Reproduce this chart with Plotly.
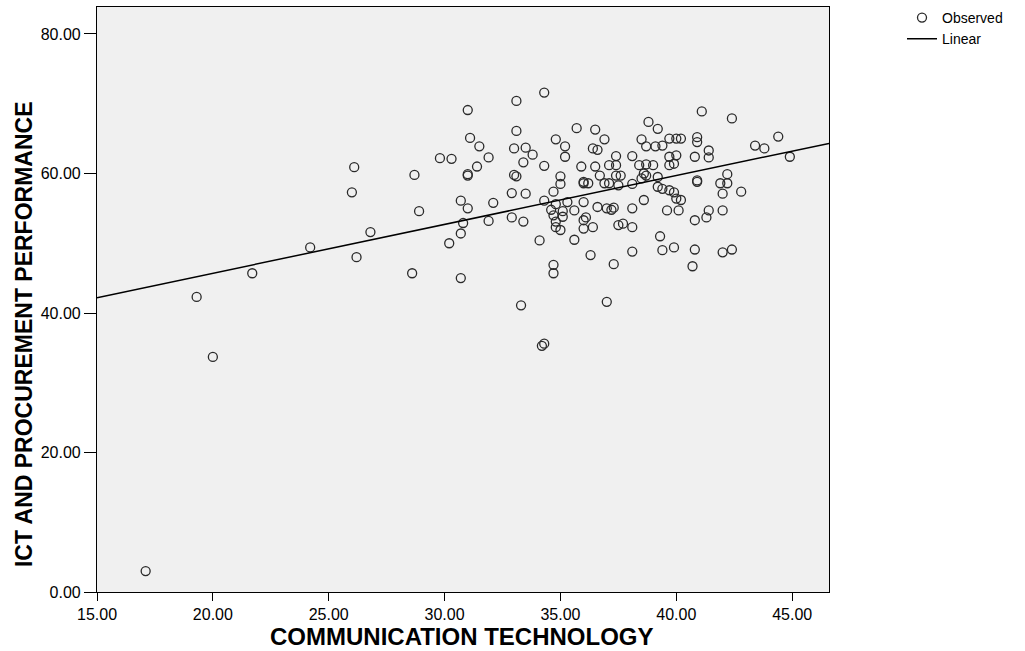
import plotly.graph_objects as go

# Observed scores: communication technology (x) vs ICT and procurement performance (y)
comm_tech = [
    17.1, 20.0, 19.3, 21.7, 24.2, 26.2, 26.8, 26.1, 26.0, 28.7, 28.9, 28.6, 30.7,
    34.3, 34.2, 33.3, 37.0,
    34.3, 33.1, 31.0, 35.7, 36.5, 33.1, 31.1, 31.5, 33.0, 33.5, 33.8, 34.8, 35.2,
    35.2, 29.8, 30.3, 31.9, 31.4, 31.0, 31.0, 33.4, 34.3, 33.0, 33.1, 35.0, 35.9,
    36.5, 36.0, 36.0, 36.2, 35.0, 34.7, 32.9, 33.5, 30.7, 31.0, 32.1, 34.3, 34.8,
    35.3, 36.0, 34.6, 35.1, 35.6, 36.6, 34.7, 35.1, 36.1, 32.9, 33.4, 31.9, 30.8,
    30.7, 30.2, 34.8, 34.8, 35.0, 36.0, 36.4, 34.1, 35.6,
    38.8, 39.2, 36.9, 36.4, 36.6, 38.5, 39.7, 40.0, 40.2, 40.9, 40.9, 38.7, 39.1,
    39.4, 37.4, 38.1, 37.1, 37.4, 38.4, 38.7, 39.0, 39.7, 40.0, 39.7, 39.9, 40.8,
    36.7, 37.4, 37.6, 38.6, 38.7, 38.5, 39.2, 36.9, 37.1, 37.5, 38.1, 39.2, 39.4,
    39.7, 39.9, 40.0, 40.2, 40.9, 40.8, 36.0, 37.0, 37.2, 37.3, 38.1, 38.6, 39.6,
    40.1, 37.5, 37.7, 38.1, 39.3, 39.4, 39.9, 40.8, 36.3, 38.1, 34.7, 34.7, 37.3,
    40.7,
    41.1, 42.4, 44.4, 43.4, 43.8, 44.9, 41.4, 41.4, 42.2, 41.9, 42.2, 40.9, 42.0,
    42.8, 41.4, 42.0, 41.3, 42.0, 42.4,
]
ict_perf = [
    3.0, 33.7, 42.3, 45.7, 49.4, 48.0, 51.6, 60.9, 57.3, 59.8, 54.6, 45.7, 45.0,
    35.6, 35.3, 41.1, 41.6,
    71.6, 70.4, 69.1, 66.5, 66.3, 66.1, 65.1, 63.9, 63.6, 63.7, 62.7, 64.9, 63.9,
    62.4, 62.2, 62.1, 62.3, 61.0, 59.7, 59.9, 61.6, 61.1, 59.8, 59.6, 59.6, 61.0,
    61.0, 58.8, 58.6, 58.6, 58.5, 57.4, 57.2, 57.1, 56.1, 55.0, 55.8, 56.1, 55.6,
    55.9, 55.9, 54.8, 54.6, 54.7, 55.2, 54.0, 53.8, 53.7, 53.7, 53.1, 53.2, 52.9,
    51.4, 50.0, 53.1, 52.3, 51.9, 52.1, 52.3, 50.4, 50.5,
    67.4, 66.4, 64.9, 63.6, 63.4, 64.9, 65.0, 65.0, 65.0, 65.2, 64.5, 63.9, 63.9,
    64.0, 62.5, 62.5, 61.2, 61.2, 61.2, 61.3, 61.2, 62.4, 62.6, 61.2, 61.4, 62.4,
    59.7, 59.7, 59.7, 60.0, 59.7, 59.3, 59.5, 58.6, 58.6, 58.3, 58.5, 58.1, 57.8,
    57.6, 57.3, 56.4, 56.2, 58.8, 53.3, 53.3, 55.0, 54.8, 55.1, 55.0, 56.2, 54.7,
    54.7, 52.6, 52.8, 52.3, 51.0, 49.0, 49.4, 49.1, 48.3, 48.8, 46.9, 45.7, 47.0,
    46.7,
    68.9, 67.9, 65.3, 64.0, 63.6, 62.4, 63.3, 62.3, 59.9, 58.6, 58.6, 59.0, 57.1,
    57.4, 54.7, 54.7, 53.7, 48.7, 49.1,
]

# Fitted linear model: performance = intercept + slope * technology
line_intercept = 31.7
line_slope = 0.70

x_range = [15.0, 46.59]
y_range = [0.0, 83.87]
x_ticks = [15, 20, 25, 30, 35, 40, 45]
y_ticks = [0, 20, 40, 60, 80]

FONT = "Liberation Sans, Arial, sans-serif"

fit_x = x_range
fit_y = [line_intercept + line_slope * v for v in fit_x]

fig = go.Figure()
fig.add_trace(go.Scatter(
    x=comm_tech, y=ict_perf, mode="markers", name="Observed",
    marker=dict(symbol="circle-open", size=9, color="#2a2a2a",
                line=dict(width=1.3, color="#2a2a2a")),
))
fig.add_trace(go.Scatter(
    x=fit_x, y=fit_y, mode="lines", name="Linear",
    line=dict(color="black", width=1.5),
))

axis_common = dict(
    showgrid=False, zeroline=False, showline=True, linecolor="black",
    linewidth=1.2, mirror=True, ticks="outside", tickcolor="black",
    tickwidth=1.2, tickformat=".2f",
    tickfont=dict(family=FONT, size=16, color="black"),
)

fig.update_layout(
    width=1025, height=651,
    margin=dict(l=97, r=196, t=7, b=59, autoexpand=False),
    paper_bgcolor="white", plot_bgcolor="#f0f0f0",
    font=dict(family=FONT, color="black"),
    xaxis=dict(range=x_range, tickvals=x_ticks, ticklen=8, **axis_common),
    yaxis=dict(range=y_range, tickvals=y_ticks, ticklen=12, **axis_common),
    showlegend=True,
    legend=dict(xref="container", yref="container", x=0.88, y=0.997,
                xanchor="left", yanchor="top",
                bgcolor="rgba(0,0,0,0)", font=dict(family=FONT, size=14),
                itemwidth=30, tracegroupgap=0),
    annotations=[
        dict(text="<b>COMMUNICATION TECHNOLOGY</b>", xref="paper", yref="paper",
             x=0.498, y=-0.076, xanchor="center", yanchor="middle",
             showarrow=False, font=dict(family=FONT, size=24, color="black")),
        dict(text="<b>ICT AND PROCUREMENT PERFORMANCE</b>", xref="paper", yref="paper",
             x=-0.0997, y=0.441, xanchor="center", yanchor="middle", textangle=-90,
             showarrow=False, font=dict(family=FONT, size=23, color="black")),
    ],
)

fig.write_html("out.html")
